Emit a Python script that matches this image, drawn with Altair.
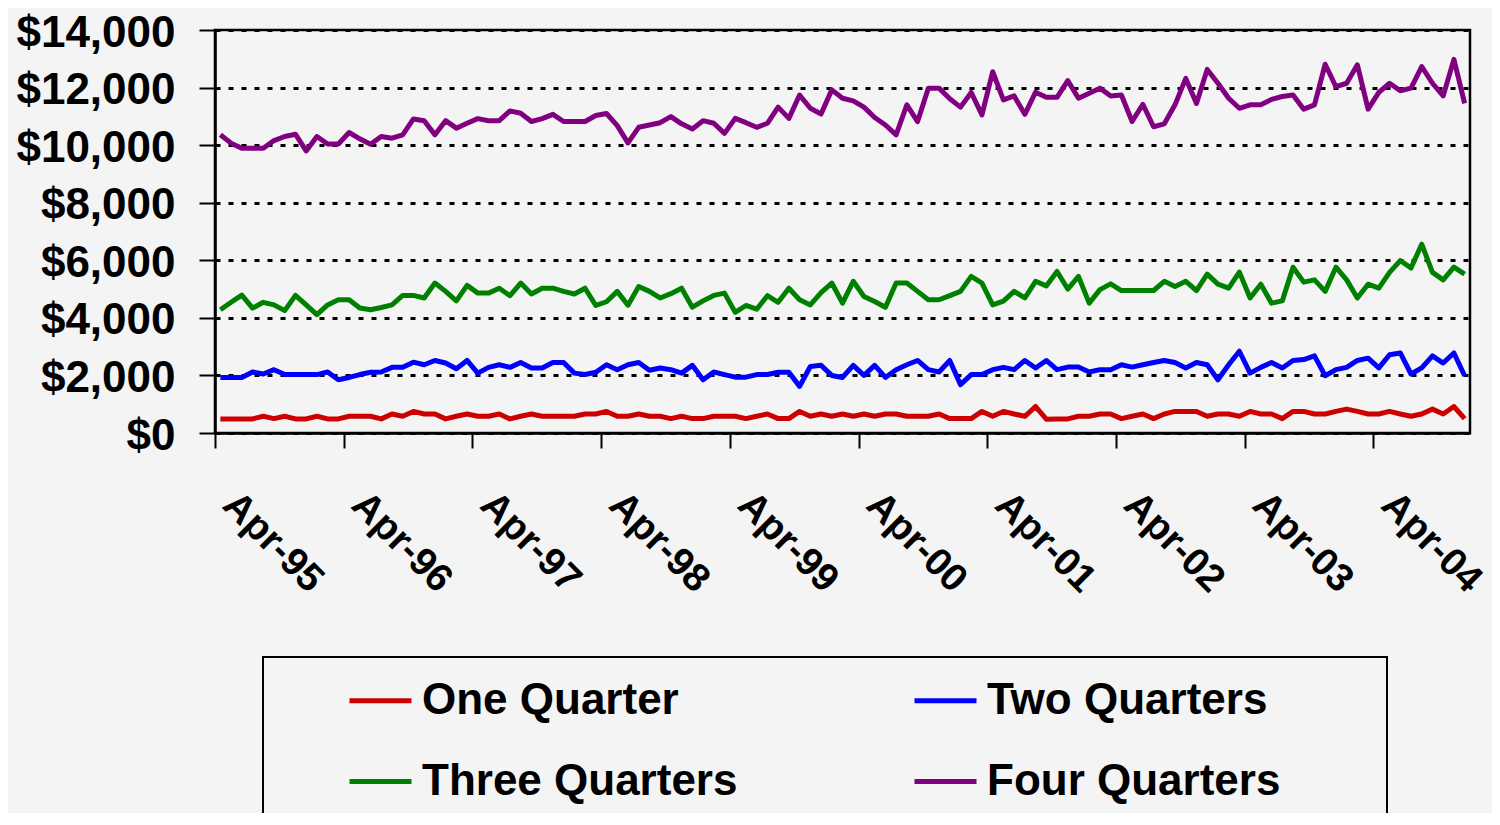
import altair as alt
import pandas as pd

# ---------------- data ----------------
months = [d.strftime("%b-%y") for d in pd.date_range("1995-04-01", periods=117, freq="MS")]
tick_labels = ["Apr-95", "Apr-96", "Apr-97", "Apr-98", "Apr-99",
               "Apr-00", "Apr-01", "Apr-02", "Apr-03", "Apr-04"]
series_names = ["One Quarter", "Two Quarters", "Three Quarters", "Four Quarters"]
series_colors = ["#CC0000", "#0000FF", "#008000", "#800080"]

one_quarter = [
    490, 490, 490, 490, 580, 500, 580, 490, 490, 580, 490, 490, 580, 580, 580, 490, 660, 580, 750, 660,
    660, 490, 580, 660, 580, 580, 660, 490, 580, 660, 580, 580, 580, 580, 660, 660, 750, 580, 580, 660,
    580, 580, 500, 580, 500, 500, 580, 580, 580, 500, 580, 660, 500, 500, 750, 580, 660, 580, 660, 580,
    660, 580, 660, 660, 580, 580, 580, 660, 500, 500, 500, 750, 580, 750, 660, 580, 920, 480, 490, 490,
    580, 580, 660, 660, 500, 580, 660, 500, 660, 750, 750, 750, 580, 660, 660, 580, 750, 660, 660, 500,
    750, 750, 660, 660, 750, 830, 750, 660, 660, 750, 660, 580, 660, 830, 660, 920, 500,
]
two_quarters = [
    1930, 1930, 1930, 2120, 2050, 2200, 2030, 2030, 2030, 2030, 2120, 1850, 1930, 2030, 2110, 2120, 2280, 2280, 2460, 2370,
    2520, 2430, 2230, 2520, 2080, 2280, 2370, 2280, 2450, 2260, 2260, 2450, 2450, 2080, 2030, 2110, 2370, 2200, 2370, 2450,
    2180, 2260, 2200, 2080, 2350, 1850, 2120, 2030, 1940, 1940, 2030, 2030, 2110, 2110, 1620, 2310, 2350, 2000, 1930, 2350,
    2000, 2350, 1930, 2200, 2370, 2520, 2200, 2120, 2520, 1680, 2030, 2030, 2200, 2280, 2200, 2520, 2260, 2520, 2200, 2290,
    2290, 2120, 2200, 2200, 2370, 2290, 2370, 2450, 2520, 2450, 2260, 2450, 2370, 1850, 2370, 2840, 2080, 2280, 2450, 2260,
    2520, 2550, 2680, 1990, 2200, 2280, 2520, 2600, 2260, 2720, 2780, 2050, 2260, 2680, 2430, 2780, 1990,
]
three_quarters = [
    4280, 4540, 4790, 4340, 4540, 4450, 4250, 4780, 4450, 4110, 4450, 4630, 4630, 4340, 4280, 4360, 4450, 4780, 4780, 4690,
    5210, 4920, 4590, 5130, 4860, 4860, 5030, 4770, 5210, 4830, 5030, 5030, 4920, 4830, 5030, 4430, 4560, 4920, 4440, 5090,
    4920, 4690, 4840, 5030, 4370, 4590, 4780, 4860, 4190, 4430, 4300, 4770, 4540, 5030, 4630, 4450, 4880, 5210, 4510, 5270,
    4740, 4570, 4370, 5210, 5210, 4920, 4630, 4630, 4770, 4920, 5440, 5210, 4450, 4580, 4920, 4690, 5270, 5110, 5610, 5000,
    5440, 4510, 4980, 5180, 4950, 4950, 4950, 4950, 5270, 5090, 5270, 4950, 5520, 5170, 5030, 5590, 4690, 5170, 4510, 4590,
    5760, 5240, 5320, 4920, 5760, 5320, 4690, 5170, 5030, 5580, 5990, 5730, 6560, 5580, 5320, 5760, 5520,
]
four_quarters = [
    10360, 10070, 9890, 9890, 9890, 10160, 10300, 10380, 9800, 10300, 10040, 10040, 10440, 10220, 10030, 10300, 10240, 10360, 10910, 10850,
    10360, 10850, 10590, 10760, 10920, 10850, 10850, 11190, 11110, 10820, 10920, 11070, 10820, 10820, 10820, 11030, 11100, 10680, 10080, 10620,
    10700, 10780, 10990, 10740, 10560, 10850, 10760, 10410, 10930, 10780, 10620, 10760, 11320, 10930, 11740, 11280, 11080, 11920, 11630, 11540,
    11320, 10960, 10700, 10360, 11400, 10820, 11980, 11980, 11610, 11320, 11830, 11050, 12550, 11570, 11710, 11070, 11840, 11660, 11660, 12240,
    11630, 11800, 11980, 11710, 11740, 10820, 11420, 10640, 10740, 11400, 12320, 11450, 12630, 12150, 11630, 11280, 11400, 11400, 11590, 11690,
    11740, 11250, 11400, 12810, 12030, 12150, 12790, 11250, 11830, 12150, 11890, 11980, 12730, 12150, 11710, 12980, 11450,
]

all_series = [one_quarter, two_quarters, three_quarters, four_quarters]
rows = []
for name, vals in zip(series_names, all_series):
    for i, (m, v) in enumerate(zip(months, vals)):
        rows.append({"month": m, "slot": i + 0.5, "order": i, "series": name, "value": v})
df = pd.DataFrame(rows)

tick_values = [months.index(t) for t in tick_labels]
label_expr = "[" + ",".join("'" + t + "'" for t in tick_labels) + "][round(datum.value / 12)]"

FONT = "Liberation Sans"

chart = alt.Chart(df).mark_line(strokeWidth=5, strokeJoin="round").encode(
    x=alt.X(
        "slot:Q",
        scale=alt.Scale(domain=[0, len(months)], nice=False, zero=False),
        axis=alt.Axis(
            values=tick_values, labelExpr=label_expr, title=None, grid=False,
            labelAngle=45, labelAlign="left", labelBaseline="middle",
            labelOffset=14, labelPadding=50, labelFlush=False, labelOverlap=False,
            labelFontSize=39, labelFont=FONT, labelFontWeight="bold", labelColor="black",
            tickSize=15, tickWidth=2, tickColor="black",
            domainColor="black", domainWidth=2.5,
        ),
    ),
    y=alt.Y(
        "value:Q",
        scale=alt.Scale(domain=[0, 14000], nice=False),
        axis=alt.Axis(
            values=list(range(0, 14001, 2000)), format="$,.0f", title=None,
            grid=True, gridColor="black", gridDash=[5, 8], gridWidth=3,
            labelFontSize=44, labelFont=FONT, labelFontWeight="bold", labelColor="black",
            labelPadding=24, labelOffset=3,
            tickSize=16, tickWidth=2, tickColor="black",
            domainColor="black", domainWidth=2.5,
        ),
    ),
    color=alt.Color(
        "series:N",
        scale=alt.Scale(domain=series_names, range=series_colors),
        legend=alt.Legend(
            title=" ", titleOrient="right", titlePadding=97, titleFontSize=2,
            orient="none", legendX=48, legendY=627, columns=2, direction="horizontal",
            symbolType="stroke", symbolSize=3844, symbolStrokeWidth=5,
            symbolOffset=74, labelOffset=8, labelLimit=500,
            labelFontSize=44, labelFont=FONT, labelFontWeight="bold", labelColor="black",
            columnPadding=100, rowPadding=25, padding=10,
            strokeColor="black",
        ),
    ),
    order="order:Q",
).properties(
    width=1255,
    height=403,
    padding={"left": 207, "top": 22, "right": 22, "bottom": 380},
    autosize=alt.AutoSizeParams(type="none"),
).configure(
    background="#f4f4f4",
    font=FONT,
).configure_view(
    stroke="black", strokeWidth=2.5,
).configure_legend(
    strokeWidth=2,
)

chart.save("out.html", embed_options={"renderer": "svg", "actions": False})
